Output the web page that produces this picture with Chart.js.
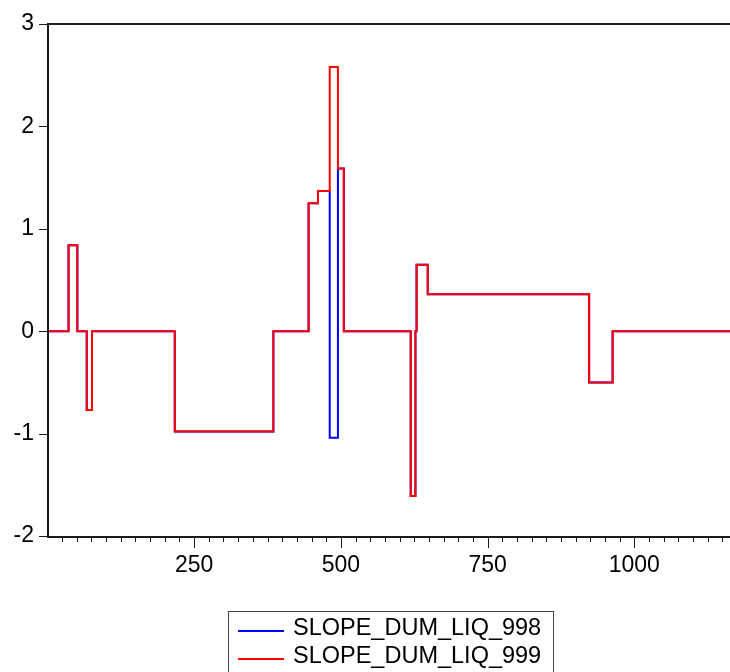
<!DOCTYPE html>
<html>
<head>
<meta charset="utf-8">
<script src="https://cdn.jsdelivr.net/npm/chart.js@4/dist/chart.umd.min.js"></script>
<style>
  html, body { margin: 0; padding: 0; background: #fff; }
  #wrap { position: relative; width: 730px; height: 672px; }
</style>
</head>
<body>
<div id="wrap"><canvas id="c" width="730" height="672"></canvas></div>
<script>
// Observation index where each level starts (last entry = end of sample)
const obsStart  = [1, 36, 51, 67, 76, 217, 385, 445, 461, 481, 495, 505, 619, 627, 629, 648, 923, 963, 1163];
const slope998  = [0, 0.84, 0, -0.77, 0, -0.98, 0, 1.25, 1.37, -1.04, 1.59, 0, -1.61, 0, 0.65, 0.36, -0.50, 0, 0];
const slope999  = [0, 0.84, 0, -0.77, 0, -0.98, 0, 1.25, 1.37, 2.58, 1.59, 0, -1.61, 0, 0.65, 0.36, -0.50, 0, 0];
const seriesNames = ['SLOPE_DUM_LIQ_998', 'SLOPE_DUM_LIQ_999'];
const seriesColors = ['#0000ff', '#ff0000'];
const xMajorTicks = [250, 500, 750, 1000];
const yTicks = [-2, -1, 0, 1, 2, 3];

const FONT = '"Liberation Sans", Arial, sans-serif';

function toPoints(xs, ys) { return xs.map((x, i) => ({ x: x, y: ys[i] })); }

const axesPlugin = {
  id: 'eviewsAxes',
  afterDraw(chart) {
    const ctx = chart.ctx;
    const a = chart.chartArea;
    const xs = chart.scales.x, ys = chart.scales.y;
    ctx.save();
    ctx.strokeStyle = '#1a1a1a';
    // y tick marks
    ctx.lineWidth = 1;
    yTicks.forEach(v => {
      const y = Math.round(ys.getPixelForValue(v)) + 0.5;
      ctx.beginPath(); ctx.moveTo(39, y); ctx.lineTo(a.left, y); ctx.stroke();
    });
    // x tick marks (minor every 25, major every 250)
    for (let v = 25; v <= xs.max; v += 25) {
      const x = Math.round(xs.getPixelForValue(v)) + 0.5;
      const len = (v % 250 === 0) ? 12 : 6;
      ctx.beginPath(); ctx.moveTo(x, a.bottom); ctx.lineTo(x, a.bottom + len); ctx.stroke();
    }
    // frame: left, bottom, top
    ctx.lineWidth = 2;
    ctx.beginPath(); ctx.moveTo(48, a.top - 1); ctx.lineTo(48, a.bottom + 1); ctx.stroke();
    ctx.beginPath(); ctx.moveTo(47, a.bottom + 1); ctx.lineTo(a.right, a.bottom + 1); ctx.stroke();
    ctx.strokeStyle = '#222';
    ctx.beginPath(); ctx.moveTo(47, a.top); ctx.lineTo(a.right, a.top); ctx.stroke();

    // legend
    ctx.lineWidth = 1;
    ctx.strokeStyle = '#444';
    ctx.strokeRect(228.5, 611.5, 325, 80);
    ctx.font = '23.5px ' + FONT;
    ctx.textBaseline = 'middle';
    ctx.textAlign = 'left';
    const rows = [631, 659];
    chart.data.datasets.forEach((ds, i) => {
      ctx.strokeStyle = ds.borderColor;
      ctx.lineWidth = 2;
      ctx.beginPath(); ctx.moveTo(238, rows[i]); ctx.lineTo(284, rows[i]); ctx.stroke();
      ctx.fillStyle = '#000';
      ctx.fillText(ds.label, 293, rows[i] - 2);
    });
    ctx.restore();
  }
};

new Chart(document.getElementById('c'), {
  type: 'line',
  data: {
    datasets: [
      { label: seriesNames[0], data: toPoints(obsStart, slope998), borderColor: seriesColors[0],
        borderWidth: 2, pointRadius: 0, stepped: 'before', order: 1, fill: false },
      { label: seriesNames[1], data: toPoints(obsStart, slope999), borderColor: seriesColors[1],
        borderWidth: 2, pointRadius: 0, stepped: 'before', order: 0, fill: false }
    ]
  },
  options: {
    responsive: false,
    animation: false,
    layout: { padding: { top: 24, right: 0, left: 0, bottom: 0 } },
    plugins: { legend: { display: false }, tooltip: { enabled: false } },
    scales: {
      x: {
        type: 'linear', min: 1, max: 1163,
        grid: { display: false },
        border: { display: false },
        afterBuildTicks: s => { s.ticks = xMajorTicks.map(v => ({ value: v })); },
        afterFit: s => { s.height = 136; },
        ticks: { font: { size: 23, family: FONT }, color: '#000', padding: 8, maxRotation: 0, autoSkip: false,
                 callback: v => String(v) }
      },
      y: {
        min: -2, max: 3,
        grid: { display: false },
        border: { display: false },
        afterBuildTicks: s => { s.ticks = yTicks.map(v => ({ value: v })); },
        afterFit: s => { s.width = 48; },
        ticks: { font: { size: 23, family: FONT }, color: '#000', padding: 6 }
      }
    }
  },
  plugins: [axesPlugin]
});
</script>
</body>
</html>
